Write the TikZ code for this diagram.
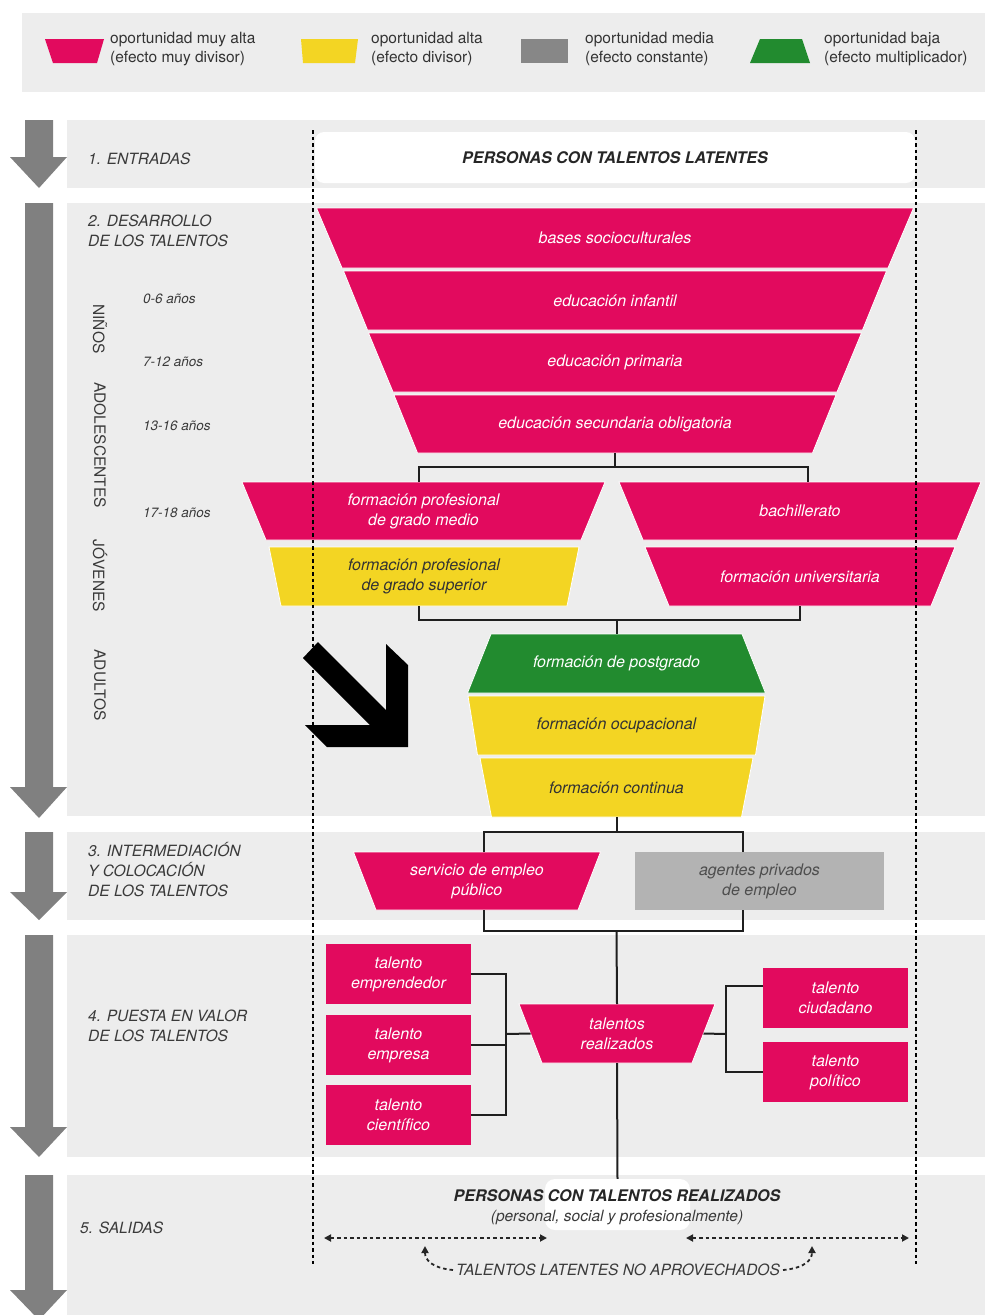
\documentclass[tikz,border=0pt]{standalone}
\usepackage{fontspec}
\setmainfont{TeX Gyre Heros}
\usetikzlibrary{arrows.meta}
\definecolor{mag}{HTML}{E20A5E}
\definecolor{yel}{HTML}{F3D523}
\definecolor{grn}{HTML}{228B2F}
\definecolor{gleg}{HTML}{878787}
\definecolor{gbox}{HTML}{B3B3B3}
\definecolor{band}{HTML}{EDEDED}
\definecolor{arr}{HTML}{808080}
\definecolor{txt}{HTML}{3A3A3A}
\definecolor{dtxt}{HTML}{333333}
% name, cx, ytop, ybot, half top width, half bottom width, fill, text colour, text
\newcommand\trapnode[9]{%
  \filldraw[fill=#7, draw=white, line width=0.8pt] ({#2-#5},#3) -- ({#2+#5},#3) -- ({#2+#6},#4) -- ({#2-#6},#4) -- cycle;
  \node[boxtext, text=#8, minimum width={(#5+#6)*1pt}, minimum height={(#4-#3)*1pt}] (#1) at (#2,{(#3+#4)/2}) {#9};
}
\newcommand\grarrow[3]{%
  \fill[arr] (25,#1) -- (53,#1) -- (53,#2) -- (67,#2) -- (39,#3) -- (10,#2) -- (25,#2) -- cycle;
}
\begin{document}
\begin{tikzpicture}[x=1pt,y=-1pt,
  >={Triangle[length=7pt,width=7pt]},
  conn/.style={draw=black!88, line width=2pt},
  boxtext/.style={inner sep=0pt, outer sep=0pt, align=center, font=\itshape\fontsize{16}{20}\selectfont},
  rbox/.style={boxtext, minimum width=145pt, minimum height=60pt, fill=mag, text=white},
  seclabel/.style={inner sep=0pt, align=left, text=txt, font=\itshape\fontsize{15.5}{20}\selectfont},
  rotlabel/.style={inner sep=0pt, text=txt, rotate=-90, font=\fontsize{15.5}{20}\selectfont},
  yrlabel/.style={inner sep=0pt, text=txt, font=\itshape\fontsize{13.5}{16}\selectfont},
  legtext/.style={inner sep=0pt, align=left, text=dtxt, font=\fontsize{15.5}{19.5}\selectfont},
  dotline/.style={line width=2pt, dash pattern=on 3.5pt off 3pt},
  dotarrow/.style={line width=1.8pt, dash pattern=on 3.5pt off 3pt, black!85},
]
\useasboundingbox (0,0) rectangle (985,1315);
\fill[white] (0,0) rectangle (985,1315);

% legend
\fill[band] (22,13) rectangle (985,92);
\fill[mag] (45,39) -- (104,39) -- (97,63) -- (53,63) -- cycle;
\fill[yel] (301,39) -- (358,39) -- (355,63) -- (303,63) -- cycle;
\fill[gleg] (521,39) rectangle (568,63);
\fill[grn] (760,39) -- (802,39) -- (810,63) -- (750,63) -- cycle;
\node[legtext, anchor=west] (lg1) at (110,49) {oportunidad muy alta\\(efecto muy divisor)};
\node[legtext, anchor=west] (lg2) at (371,49) {oportunidad alta\\(efecto divisor)};
\node[legtext, anchor=west] (lg3) at (585,49) {oportunidad media\\(efecto constante)};
\node[legtext, anchor=west] (lg4) at (824,49) {oportunidad baja\\(efecto multiplicador)};

% bands
\fill[band] (67,120) rectangle (985,188);
\fill[band] (67,203) rectangle (985,816);
\fill[band] (67,832) rectangle (985,920);
\fill[band] (67,935) rectangle (985,1157);
\fill[band] (67,1175) rectangle (985,1315);

% grey arrows
\grarrow{120}{157}{188}
\grarrow{203}{787}{818}
\grarrow{832}{892}{920}
\grarrow{935}{1127}{1157}
\grarrow{1175}{1290}{1320}

% section labels
\node[seclabel, anchor=west] (s1) at (88,159) {1. ENTRADAS};
\node[seclabel, anchor=west] (s2) at (88,231) {2. DESARROLLO\\DE LOS TALENTOS};
\node[seclabel, anchor=west] (s3) at (88,870) {3. INTERMEDIACIÓN\\Y COLOCACIÓN\\DE LOS TALENTOS};
\node[seclabel, anchor=west] (s4) at (88,1026) {4. PUESTA EN VALOR\\DE LOS TALENTOS};
\node[seclabel, anchor=west] (s5) at (80,1228) {5. SALIDAS};
\node[yrlabel, anchor=west] (y1) at (143,299) {0-6 años};
\node[yrlabel, anchor=west] (y2) at (143,362) {7-12 años};
\node[yrlabel, anchor=west] (y3) at (143,426) {13-16 años};
\node[yrlabel, anchor=west] (y4) at (143,513) {17-18 años};
\node[rotlabel] (r1) at (100,329) {NIÑOS};
\node[rotlabel] (r2) at (100,445) {ADOLESCENTES};
\node[rotlabel] (r3) at (100,576) {JÓVENES};
\node[rotlabel] (r4) at (100,685) {ADULTOS};

% entradas box
\node[fill=white, rounded corners=9pt, minimum width=600pt, minimum height=51pt, inner sep=0pt,
      font=\bfseries\itshape\fontsize{16}{20}\selectfont, text=black!85] (ent) at (615,157.5) {PERSONAS CON TALENTOS LATENTES};

% junction points
\coordinate (j1) at (615,467);
\coordinate (j2) at (616.5,620);
\coordinate (j3) at (616.5,832);
\coordinate (j4) at (616.5,931);
\coordinate (j5) at (506,1034);
\coordinate (j6) at (726,1034);

% funnel
\trapnode{bas}{615}{208}{268}{298.5}{273}{mag}{white}{bases socioculturales}
\trapnode{inf}{615}{271}{330}{271.5}{247.5}{mag}{white}{educación infantil}
\trapnode{pri}{615}{333}{392}{246.5}{222}{mag}{white}{educación primaria}
\trapnode{sec}{615}{395}{453}{221}{197.5}{mag}{white}{educación secundaria obligatoria}

% second level
\trapnode{fpm}{423.5}{482}{540}{181.5}{157.5}{mag}{white}{formación profesional\\de grado medio}
\trapnode{fps}{424}{547}{606}{155}{143}{yel}{dtxt}{formación profesional\\de grado superior}
\trapnode{bac}{800}{482}{540}{181}{157}{mag}{white}{bachillerato}
\trapnode{uni}{800}{547}{606}{155}{131}{mag}{white}{formación universitaria}

\draw[conn] (sec.south) -- (j1);
\draw[conn] ([xshift=-4.5pt]fpm.north) |- (j1) -| ([xshift=8pt]bac.north);

% adult stack
\trapnode{pos}{616.5}{634}{693}{125.5}{149}{grn}{white}{formación de postgrado}
\trapnode{ocu}{616.5}{696}{755}{148.5}{139}{yel}{dtxt}{formación ocupacional}
\trapnode{con}{616.5}{758}{817}{136.5}{125}{yel}{dtxt}{formación continua}

\draw[conn] ([xshift=-5pt]fps.south) |- (j2) -| (uni.south);
\draw[conn] (j2) -- (pos.north);

% intermediacion
\trapnode{ser}{477}{852}{910}{123.5}{101}{mag}{white}{servicio de empleo\\público}
\node[boxtext, fill=gbox, text=txt!90, minimum width=249pt, minimum height=58pt] (age) at (759.5,881) {agentes privados\\de empleo};
\draw[conn] (con.south) -- (j3);
\draw[conn] ([xshift=7pt]ser.north) |- (j3) -| ([xshift=-16.5pt]age.north);
\draw[conn] ([xshift=7pt]ser.south) |- (j4) -| ([xshift=-16.5pt]age.south);

% puesta en valor
\trapnode{tr}{617}{1004}{1063}{98}{75}{mag}{white}{talentos\\realizados}
\draw[conn] (j4) -- (tr.north);
\node[rbox] (emp) at (398.5,974) {talento\\emprendedor};
\node[rbox] (ems) at (398.5,1045) {talento\\empresa};
\node[rbox] (cie) at (398.5,1115) {talento\\científico};
\node[rbox] (ciu) at (835.5,998) {talento\\ciudadano};
\node[rbox] (pol) at (835.5,1072) {talento\\político};
\draw[conn] (emp.east) -| (j5);
\draw[conn] (cie.east) -| (j5);
\draw[conn] (ems.east) -- (ems.east -| j5);
\draw[conn] (j5) -- (tr.west);
\draw[conn] (tr.east) -- (j6);
\draw[conn] ([yshift=12pt]ciu.west) -| (j6) |- (pol.west);

% salidas
\node[fill=white, rounded corners=10pt, minimum width=145pt, minimum height=51pt, inner sep=0pt] (prb) at (617.5,1204.5) {};
\draw[conn] (tr.south) -- (prb.north);
\node[inner sep=0pt, font=\bfseries\itshape\fontsize{16}{20}\selectfont, text=black!85] (prt) at (617,1196) {PERSONAS CON TALENTOS REALIZADOS};
\node[inner sep=0pt, font=\itshape\fontsize{15.5}{18}\selectfont, text=txt] (prs) at (617,1217) {(personal, social y profesionalmente)};
\node[inner sep=3pt, font=\itshape\fontsize{15.5}{18}\selectfont, text=txt] (tl) at (618,1270) {TALENTOS LATENTES NO APROVECHADOS};
\coordinate (la1) at (324,1238);
\coordinate (la2) at (547,1238);
\coordinate (ra1) at (686,1238);
\coordinate (ra2) at (909,1238);
\coordinate (lc) at (425,1246);
\coordinate (rc) at (812,1246);
\draw[dotarrow, <->] (la1) -- (la2);
\draw[dotarrow, <->] (ra1) -- (ra2);
\draw[dotarrow, ->] (tl.west) .. controls (432,1268) and (425,1260) .. (lc);
\draw[dotarrow, ->] (tl.east) .. controls (805,1268) and (812,1260) .. (rc);

% dotted verticals
\coordinate (dl1) at (313,130);
\coordinate (dl2) at (313,1264);
\coordinate (dr1) at (916,130);
\coordinate (dr2) at (916,1264);
\draw[dotline] (dl1) -- (dl2);
\draw[dotline] (dr1) -- (dr2);

% big black arrow
\fill[black] (303,658) -- (318,642) -- (386,710) -- (386,644) -- (408,665) -- (408,747) -- (327,747) -- (305,725) -- (370,725) -- cycle;
\end{tikzpicture}
\end{document}
